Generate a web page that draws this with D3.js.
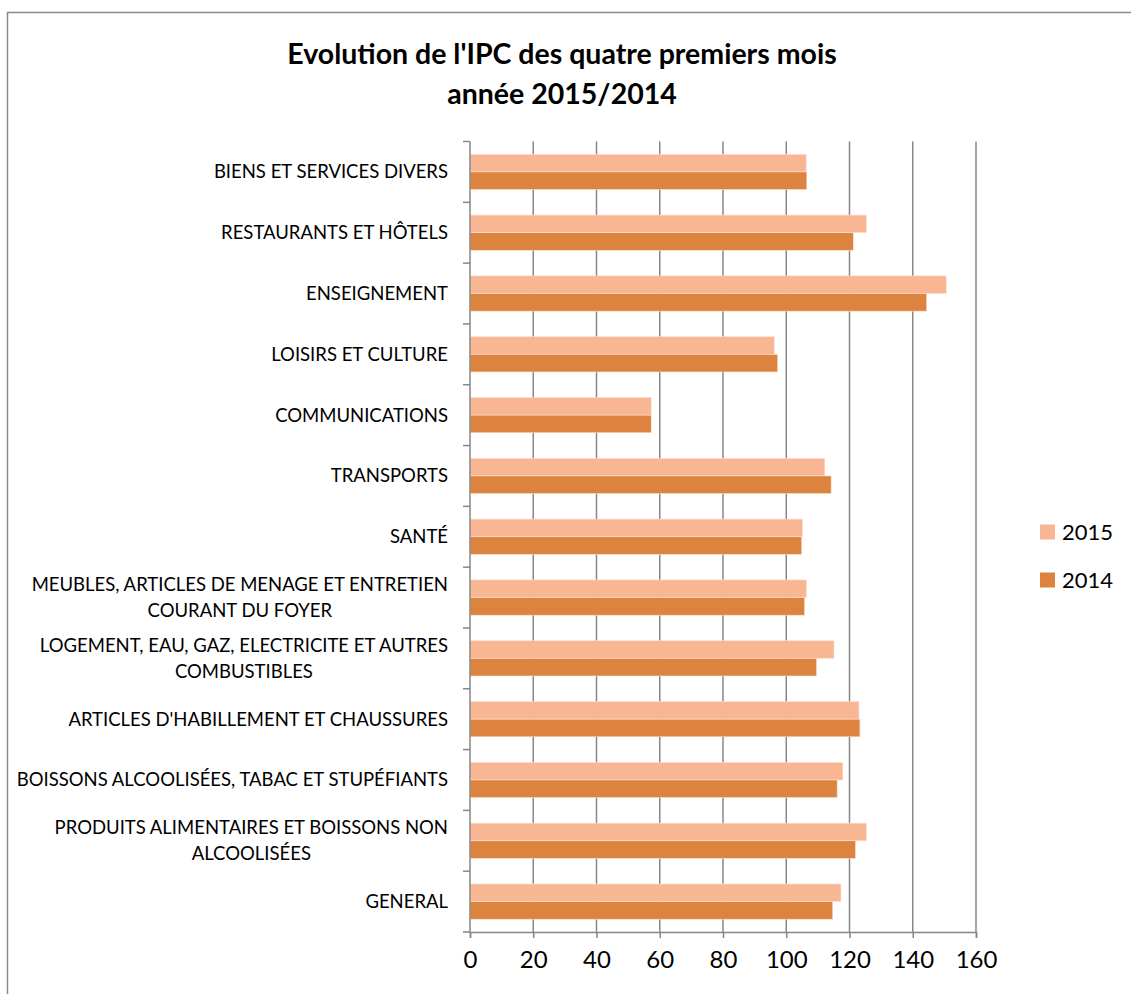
<!DOCTYPE html>
<html>
<head>
<meta charset="utf-8">
<script src="https://cdnjs.cloudflare.com/ajax/libs/d3/7.8.5/d3.min.js"></script>
<style>
  body { margin: 0; background: #fff; }
  svg { display: block; font-family: Lato, "Open Sans", sans-serif; }
</style>
</head>
<body>
<svg id="chart" width="1131" height="994"></svg>
<script>
// categories from top to bottom, "\n" marks a line break in the label
var categories = [
  "BIENS ET SERVICES DIVERS",
  "RESTAURANTS ET HÔTELS",
  "ENSEIGNEMENT",
  "LOISIRS ET CULTURE",
  "COMMUNICATIONS",
  "TRANSPORTS",
  "SANTÉ",
  "MEUBLES, ARTICLES DE MENAGE ET ENTRETIEN\nCOURANT DU FOYER",
  "LOGEMENT, EAU, GAZ, ELECTRICITE ET AUTRES\nCOMBUSTIBLES",
  "ARTICLES D'HABILLEMENT ET CHAUSSURES",
  "BOISSONS ALCOOLISÉES, TABAC ET STUPÉFIANTS",
  "PRODUITS ALIMENTAIRES ET BOISSONS NON\nALCOOLISÉES",
  "GENERAL"
];
var values2015 = [106.3, 125.4, 150.6, 96.2, 57.3, 112.2, 105.2, 106.4, 115.1, 123.0, 117.9, 125.4, 117.3];
var values2014 = [106.5, 121.2, 144.4, 97.3, 57.3, 114.2, 104.9, 105.8, 109.6, 123.3, 116.1, 121.9, 114.7];
var seriesNames = ["2015", "2014"];
var xTicks = [0, 20, 40, 60, 80, 100, 120, 140, 160];
var titleLines = ["Evolution de l'IPC des quatre premiers mois", "année 2015/2014"];

var colors = {"2015": "#F8B692", "2014": "#DC843F"};

var svg = d3.select("#chart");

//Outer frame (only top and left edges show in the picture)
svg.append("rect")
  .attr("x", 7.5).attr("y", 12.5)
  .attr("width", 1140).attr("height", 1000)
  .attr("fill", "none").attr("stroke", "#8a8a8a").attr("stroke-width", 1.5);

var plotLeft = 470, plotRight = 976, plotTop = 141.5, plotBottom = 932;

var x = d3.scaleLinear().domain([0, 160]).range([plotLeft, plotRight]);
var y = d3.scaleBand().domain(categories).range([plotTop, plotBottom]);
var band = y.bandwidth();

//Vertical gridlines
svg.append("g")
  .selectAll("line")
  .data(xTicks.slice(1))
  .enter().append("line")
  .attr("x1", function(d) { return x(d); })
  .attr("x2", function(d) { return x(d); })
  .attr("y1", plotTop).attr("y2", plotBottom)
  .attr("stroke", "#878787").attr("stroke-width", 1.5);

//Bars
var rows = categories.map(function(c, i) {
  return {cat: c, "2015": values2015[i], "2014": values2014[i]};
});
var offsets = {"2015": 0.21, "2014": 0.50};
seriesNames.forEach(function(s) {
  svg.append("g")
    .selectAll("rect")
    .data(rows)
    .enter().append("rect")
    .attr("x", x(0))
    .attr("y", function(d) { return y(d.cat) + band * offsets[s]; })
    .attr("width", function(d) { return x(d[s]) - x(0); })
    .attr("height", band * 0.29)
    .attr("fill", colors[s])
    .attr("stroke", "#fbe3d6").attr("stroke-width", 0.6);
});

//Bottom axis
var xAxis = svg.append("g")
  .attr("transform", "translate(0," + plotBottom + ")")
  .call(d3.axisBottom(x).tickValues(xTicks).tickSize(6).tickPadding(13));
xAxis.select(".domain").attr("stroke", "#878787").attr("stroke-width", 1.5);
xAxis.selectAll(".tick line").attr("stroke", "#878787").attr("stroke-width", 1.5);
xAxis.selectAll(".tick text")
  .attr("font-size", 24).attr("fill", "#000")
  .attr("font-family", "Lato, sans-serif");

//Left axis with ticks at band boundaries
svg.append("line")
  .attr("x1", plotLeft).attr("x2", plotLeft).attr("y1", plotTop).attr("y2", plotBottom)
  .attr("stroke", "#878787").attr("stroke-width", 1.5);
svg.append("g")
  .selectAll("line")
  .data(d3.range(categories.length + 1))
  .enter().append("line")
  .attr("x1", plotLeft - 7).attr("x2", plotLeft)
  .attr("y1", function(i) { return plotTop + i * band; })
  .attr("y2", function(i) { return plotTop + i * band; })
  .attr("stroke", "#878787").attr("stroke-width", 1.5);

//Category labels
var lineGap = 26;
var labels = svg.append("g")
  .attr("font-size", 18.5)
  .attr("fill", "#000")
  .attr("text-anchor", "end")
  .selectAll("text")
  .data(categories)
  .enter().append("text")
  .attr("x", 448)
  .attr("y", function(d) {
    var n = d.split("\n").length;
    return y(d) + band / 2 - (n - 1) * lineGap / 2;
  });
labels.selectAll("tspan")
  .data(function(d) { return d.split("\n"); })
  .enter().append("tspan")
  .attr("x", 448)
  .attr("dy", function(d, i) { return i == 0 ? "0.35em" : lineGap + "px"; })
  .text(function(d) { return d; });
//centre second lines under the first line
labels.each(function() {
  var spans = d3.select(this).selectAll("tspan").nodes();
  if (spans.length > 1) {
    var w0 = spans[0].getComputedTextLength();
    var w1 = spans[1].getComputedTextLength();
    d3.select(spans[1]).attr("x", 448 - (w0 - w1) / 2);
  }
});

//Title
svg.append("g")
  .attr("font-size", 28.5)
  .attr("font-weight", "bold")
  .attr("text-anchor", "middle")
  .selectAll("text")
  .data(titleLines)
  .enter().append("text")
  .attr("x", 562)
  .attr("y", function(d, i) { return 64 + i * 40; })
  .text(function(d) { return d; });

//Legend
var legend = svg.append("g")
  .selectAll("g")
  .data(seriesNames)
  .enter().append("g")
  .attr("transform", function(d, i) { return "translate(1040," + (532 + i * 48) + ")"; });

legend.append("rect")
  .attr("x", 0).attr("y", -7.5)
  .attr("width", 15).attr("height", 15)
  .attr("fill", function(d) { return colors[d]; });

legend.append("text")
  .attr("x", 22)
  .attr("dy", "0.35em")
  .attr("font-size", 22)
  .text(function(d) { return d; });
</script>
</body>
</html>
